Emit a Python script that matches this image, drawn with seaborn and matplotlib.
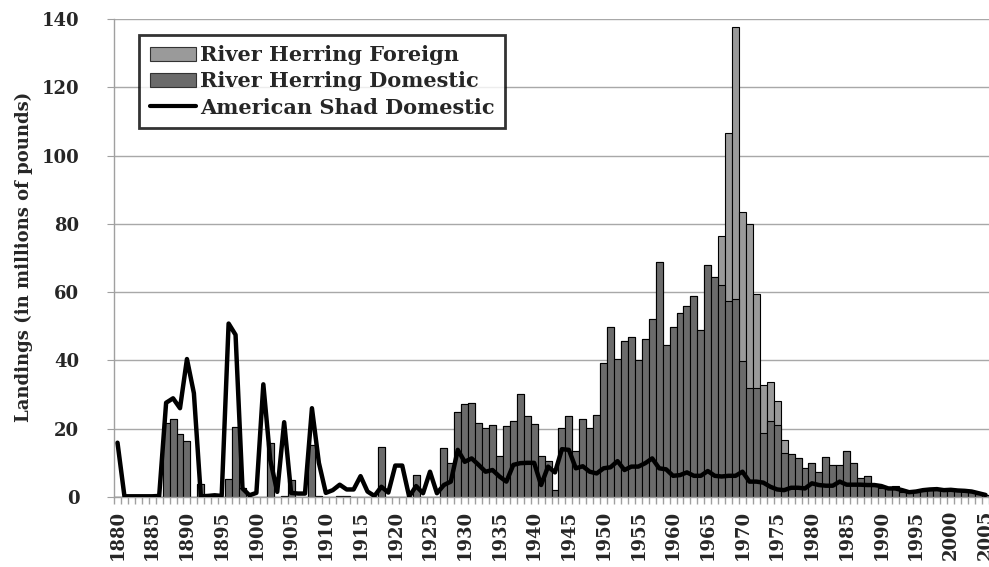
import numpy as np
import pandas as pd
import matplotlib
matplotlib.use("Agg")
import matplotlib.pyplot as plt
import seaborn as sns
from matplotlib.patches import Patch
from matplotlib.lines import Line2D

years = list(range(1880, 2006))

# river herring, domestic landings (millions of pounds), 1880-2005
herring_domestic = [
    0, 0, 0, 0, 0, 0, 0, 21.8, 22.7, 18.3,
    16.5, 0, 3.7, 0, 0, 0, 5.3, 20.5, 2.7, 0,
    0, 0, 15.7, 0, 0.3, 4.9, 0, 0, 15.2, 0.2,
    0, 0, 0.3, 0.3, 0, 0, 0, 0, 14.5, 0,
    0, 0, 0, 6.4, 0, 0, 0, 14.2, 9.9, 24.8,
    27.2, 27.5, 21.6, 20.2, 21.0, 12.1, 20.8, 22.2, 30.2, 23.6,
    21.3, 12.1, 10.4, 1.9, 20.2, 23.6, 13.5, 22.9, 20.1, 23.9,
    39.2, 49.7, 40.5, 45.6, 46.8, 40.0, 46.2, 52.2, 68.9, 44.6,
    49.7, 54.0, 56.0, 58.9, 48.8, 67.8, 64.4, 62.1, 57.3, 57.9,
    39.7, 31.8, 31.8, 18.7, 22.2, 21.0, 12.8, 12.6, 11.5, 8.6,
    9.9, 7.2, 11.8, 9.3, 9.3, 13.5, 9.9, 5.6, 6.1, 3.2,
    2.5, 2.2, 2.6, 1.6, 1.4, 1.6, 1.7, 1.9, 2.1, 1.9,
    1.9, 1.8, 1.7, 1.5, 1.0, 0.6,
]

# river herring, foreign landings stacked on top
herring_foreign = [0] * 87 + [14.3, 49.2, 79.7, 43.7, 48.2, 27.6, 14.0, 11.6, 7.2, 3.9] + [0] * 29
herring_foreign[110] = 0.4
herring_foreign[112] = 0.5

# american shad, domestic landings
shad_domestic = [
    15.9, 0.2, 0.2, 0.2, 0.2, 0.2, 0.3, 27.6, 28.9, 26.0,
    40.4, 30.4, 0.2, 0.3, 0.5, 0.3, 50.8, 47.5, 2.5, 0.5,
    1.2, 33.0, 10.8, 1.5, 21.9, 1.2, 1.0, 1.0, 26.0, 10.0,
    1.2, 2.0, 3.6, 2.2, 2.2, 6.1, 1.6, 0.3, 3.0, 1.3,
    9.2, 9.2, 0.1, 3.2, 1.1, 7.4, 1.1, 3.5, 4.5, 13.8,
    10.3, 11.3, 9.4, 7.4, 7.9, 6.0, 4.5, 9.4, 9.9, 10.0,
    10.0, 3.5, 8.9, 7.2, 14.0, 13.8, 8.4, 9.0, 7.4, 6.9,
    8.4, 8.7, 10.5, 7.9, 8.9, 8.9, 9.9, 11.3, 8.4, 8.1,
    6.2, 6.4, 7.2, 6.2, 6.2, 7.6, 6.2, 6.0, 6.2, 6.2,
    7.4, 4.5, 4.5, 4.2, 3.0, 2.2, 2.0, 2.7, 2.7, 2.5,
    4.0, 3.5, 3.3, 3.3, 4.5, 3.6, 3.6, 3.6, 3.5, 3.5,
    3.2, 2.5, 2.5, 2.0, 1.4, 1.6, 2.0, 2.2, 2.3, 2.0,
    2.1, 1.9, 1.8, 1.6, 1.1, 0.6,
]

data = pd.DataFrame({'Year': years,
                     'Domestic': herring_domestic,
                     'Foreign': herring_foreign,
                     'Shad': shad_domestic})
data['Total'] = data['Domestic'] + data['Foreign']
data['pos'] = np.arange(len(data))

light = '#9a9a9a'
dark = '#6b6b6b'

sns.set_style('white')
plt.rcParams['font.family'] = ['DejaVu Serif']
plt.rcParams['font.weight'] = 'bold'

fig, ax = plt.subplots(figsize=(9.89, 5.67), dpi=100)
fig.subplots_adjust(left=0.1153, right=1.0, bottom=0.1235, top=0.9665)

sns.barplot(data=data, x='Year', y='Total', color=light, saturation=1, width=1,
            edgecolor='black', linewidth=0.8, ax=ax)
sns.barplot(data=data, x='Year', y='Domestic', color=dark, saturation=1, width=1,
            edgecolor='black', linewidth=0.8, ax=ax)
sns.lineplot(data=data, x='pos', y='Shad', color='black', linewidth=3.2, ax=ax, zorder=5)

ax.set_xlim(-0.5, len(years) - 0.5)
ax.set_ylim(0, 140)
ax.set_yticks(range(0, 141, 20))
ax.set_xticks(range(0, len(years), 5))
ax.set_xticklabels([str(y) for y in years[::5]], rotation=90, fontsize=13, fontweight='bold')
ax.set_xticks(np.arange(-0.5, len(years), 1), minor=True)
ax.tick_params(axis='x', which='major', bottom=True, length=0, pad=9)
ax.tick_params(axis='x', which='minor', bottom=True, length=5, color='#a0a0a0', width=1)
ax.tick_params(axis='y', left=True, length=5, color='#a0a0a0', pad=20, labelsize=13)
for t in ax.get_yticklabels():
    t.set_fontweight('bold')

ax.set_axisbelow(True)
ax.yaxis.grid(True, color='#a8a8a8', linewidth=1)
ax.xaxis.grid(False)
for s in ['top', 'right']:
    ax.spines[s].set_visible(False)
for s in ['left', 'bottom']:
    ax.spines[s].set_color('#a0a0a0')
    ax.spines[s].set_linewidth(1)

ax.set_xlabel('')
ax.set_ylabel('Landings (in millions of pounds)', fontsize=13, fontweight='bold')
ax.yaxis.set_label_coords(-0.093, 0.503)

handles = [Patch(facecolor=light, edgecolor='#333333', linewidth=0.8),
           Patch(facecolor=dark, edgecolor='#333333', linewidth=0.8),
           Line2D([0], [0], color='black', linewidth=3)]
labels = ['River Herring Foreign', 'River Herring Domestic', 'American Shad Domestic']
leg = ax.legend(handles, labels, loc='upper left', bbox_to_anchor=(0.029, 0.967),
                borderaxespad=0, frameon=True, fancybox=False, handlelength=2.2,
                handletextpad=0.2, borderpad=0.5, labelspacing=0.3,
                prop={'weight': 'bold', 'size': 15})
leg.get_frame().set_edgecolor('black')
leg.get_frame().set_linewidth(2)

plt.savefig('out.png', dpi=100)
